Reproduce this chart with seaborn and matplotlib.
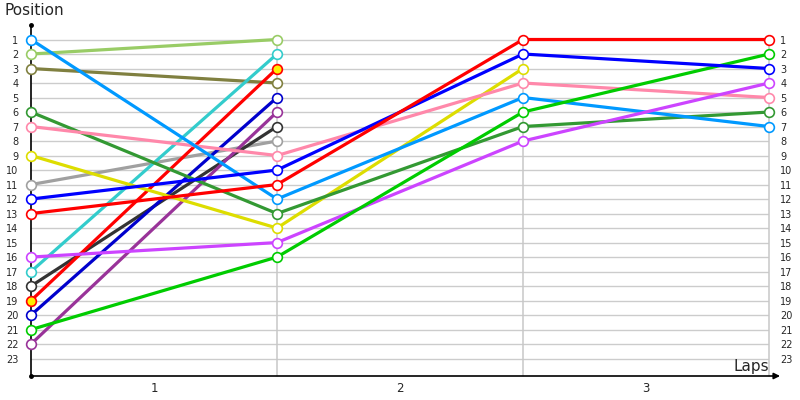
import matplotlib
matplotlib.use("Agg")
import matplotlib.pyplot as plt
import seaborn as sns

# lap positions per driver (lap 0 = start grid)
laps = [0, 1, 2, 3]
pos_lightblue = [1, 12, 5, 7]
pos_lightgreen = [2, 1]
pos_olive = [3, 4]
pos_forest = [6, 13, 7, 6]
pos_pink = [7, 9, 4, 5]
pos_yellow = [9, 14, 3]
pos_gray = [11, 8]
pos_blue = [12, 10, 2, 3]
pos_red = [13, 11, 1, 1]
pos_violet = [16, 15, 8, 4]
pos_cyan = [17, 2]
pos_darkgray = [18, 7]
pos_red2 = [19, 3]
pos_navy = [20, 5]
pos_green = [21, 16, 6, 2]
pos_purple = [22, 6]

series = [
    (pos_lightgreen, "#99CC66", "white"),
    (pos_olive, "#808040", "white"),
    (pos_gray, "#A0A0A0", "white"),
    (pos_cyan, "#33CCCC", "white"),
    (pos_darkgray, "#333333", "white"),
    (pos_red2, "#FF0000", "#FFEE00"),
    (pos_navy, "#0000CC", "white"),
    (pos_purple, "#993399", "white"),
    (pos_yellow, "#DDDD00", "white"),
    (pos_forest, "#339933", "white"),
    (pos_pink, "#FF88AA", "white"),
    (pos_lightblue, "#0099FF", "white"),
    (pos_violet, "#CC44FF", "white"),
    (pos_green, "#00CC00", "white"),
    (pos_blue, "#0000FF", "white"),
    (pos_red, "#FF0000", "white"),
]

sns.set_style("white")
plt.rcParams["font.family"] = ["DejaVu Sans"]

fig = plt.figure(figsize=(8, 4), dpi=100)
ax = fig.add_axes([0.03875, 0.06, 0.9225, 0.8775])

ymax = 24.2
positions = list(range(1, 24))
for p in positions:
    ax.axhline(p, color="#CCCCCC", lw=1, zorder=0)

for vals, col, face in series:
    sns.lineplot(x=laps[:len(vals)], y=vals, color=col, lw=2.3, marker="o",
                 markersize=7, markerfacecolor=face, markeredgecolor=col,
                 markeredgewidth=1.2, ax=ax, zorder=3, clip_on=False)

ax.set_xlim(0, 3)
ax.set_ylim(ymax, 0)
ax.set_yticks(positions)
ax.set_yticklabels([str(i) for i in positions], fontsize=7)
ax.set_xticks([0.5, 1.5, 2.5])
ax.set_xticklabels(["1", "2", "3"], fontsize=8.5)
ax.tick_params(axis="y", length=0, pad=9)
ax.tick_params(axis="x", length=0, pad=4)

# right-hand position labels
ax2 = ax.twinx()
ax2.set_ylim(ymax, 0)
ax2.set_yticks(positions)
ax2.set_yticklabels([str(i) for i in positions], fontsize=7)
ax2.tick_params(axis="y", length=0, pad=8)
for s in ax2.spines.values():
    s.set_visible(False)
ax2.grid(False)

# vertical lap separators
for lx in [1, 2, 3]:
    ax.plot([lx, lx], [1, ymax], color="#C8C8C8", lw=1.1, zorder=0.5,
            clip_on=False, snap=False)

ax.spines["top"].set_visible(False)
ax.spines["right"].set_visible(False)
ax.spines["bottom"].set_visible(False)
ax.spines["left"].set_color("black")
ax.spines["left"].set_linewidth(1.2)
ax.spines["left"].set_zorder(1)

# x axis arrow
ax.annotate("", xy=(1.015, 0), xytext=(0, 0), xycoords="axes fraction",
            arrowprops=dict(arrowstyle="-|>", color="black", lw=1.2,
                            mutation_scale=9, shrinkA=0, shrinkB=0),
            annotation_clip=False)
ax.plot([0, 0], [0, 1], "o", color="black", ms=2.5, transform=ax.transAxes,
        clip_on=False)

ax.set_xlabel("")
ax.set_ylabel("")
fig.text(0.006, 0.955, "Position", fontsize=11, ha="left", va="bottom")
fig.text(0.962, 0.066, "Laps", fontsize=11, ha="right", va="bottom")

fig.savefig("out.png", dpi=100)
